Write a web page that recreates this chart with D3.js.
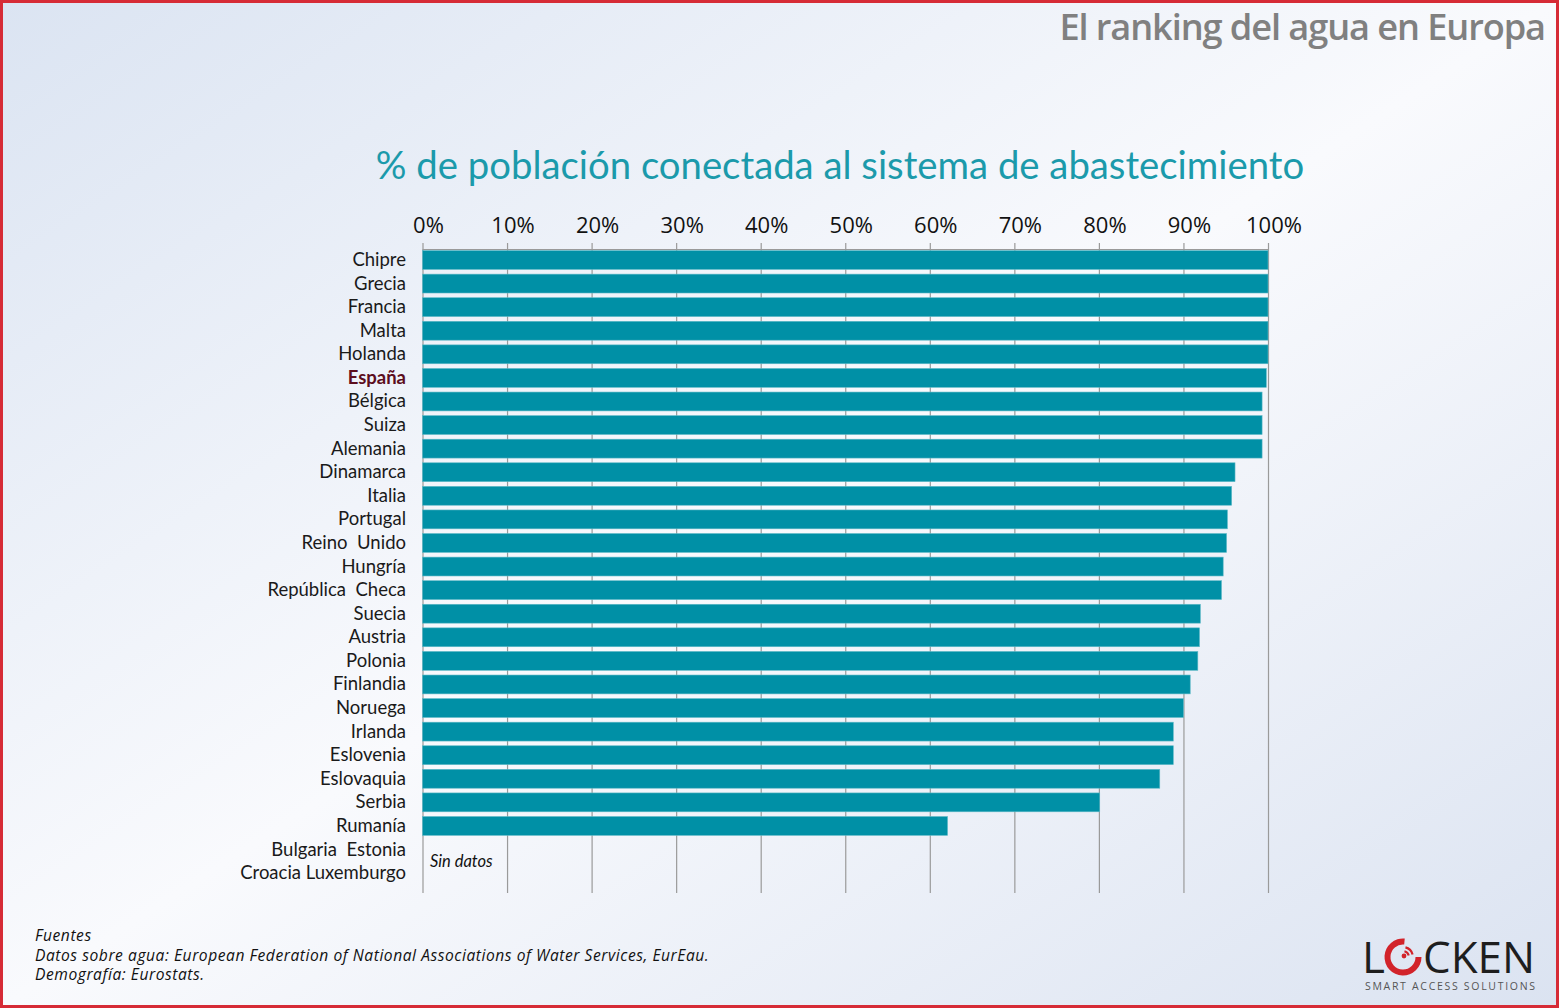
<!DOCTYPE html>
<html>
<head>
<meta charset="utf-8">
<script src="https://cdn.jsdelivr.net/npm/d3@7"></script>
<style>
  html, body { margin: 0; padding: 0; }
  body { width: 1559px; height: 1008px; overflow: hidden; }
</style>
</head>
<body>
<svg id="chart" width="1559" height="1008"></svg>
<script>
// datos
const paises = ["Chipre", "Grecia", "Francia", "Malta", "Holanda", "España", "Bélgica", "Suiza", "Alemania",
  "Dinamarca", "Italia", "Portugal", "Reino  Unido", "Hungría", "República  Checa", "Suecia", "Austria",
  "Polonia", "Finlandia", "Noruega", "Irlanda", "Eslovenia", "Eslovaquia", "Serbia", "Rumanía"];
const valores = [100, 100, 100, 100, 100, 99.8, 99.3, 99.3, 99.3,
  96.1, 95.7, 95.2, 95.1, 94.7, 94.5, 92.0, 91.9,
  91.7, 90.8, 90.0, 88.8, 88.8, 87.2, 80.1, 62.1];
const sinDatos = ["Bulgaria  Estonia", "Croacia Luxemburgo"];
const ticks = [0, 10, 20, 30, 40, 50, 60, 70, 80, 90, 100];
const destacado = "España";

const svg = d3.select("#chart");
const W = 1559, H = 1008;

// fondo degradado
const defs = svg.append("defs");
const grad = defs.append("linearGradient").attr("id", "fondo")
  .attr("x1", "0%").attr("y1", "0%").attr("x2", "100%").attr("y2", "100%");
grad.append("stop").attr("offset", "0%").attr("stop-color", "#dbe4f2");
grad.append("stop").attr("offset", "50%").attr("stop-color", "#f9fafd");
grad.append("stop").attr("offset", "100%").attr("stop-color", "#dbe3f1");
svg.append("rect").attr("width", W).attr("height", H).attr("fill", "url(#fondo)");
svg.append("rect").attr("x", 1.5).attr("y", 1.5).attr("width", W - 3).attr("height", H - 3)
  .attr("fill", "none").attr("stroke", "#d62b36").attr("stroke-width", 3);

// títulos
svg.append("text").attr("x", 1545).attr("y", 40).attr("text-anchor", "end")
  .attr("font-family", "'Open Sans', sans-serif").attr("font-weight", 600)
  .attr("font-size", 36.2).attr("fill", "#808080").attr("letter-spacing", -1.1)
  .text("El ranking del agua en Europa");

svg.append("text").attr("x", 840).attr("y", 179).attr("text-anchor", "middle")
  .attr("font-family", "Lato, sans-serif").attr("font-size", 38.3).attr("fill", "#1b9aab")
  .text("% de población conectada al sistema de abastecimiento");

// escalas
const filas = paises.concat(sinDatos);
const x = d3.scaleLinear().domain([0, 100]).range([422.5, 1268]);
const y = d3.scaleBand().domain(filas).range([248.2, 884.9]).paddingInner(0.2).paddingOuter(0.1);

const g = svg.append("g");

// rejilla vertical
g.selectAll("line.grid").data(ticks).enter().append("line")
  .attr("class", "grid")
  .attr("x1", d => x(d) + 0.5).attr("x2", d => x(d) + 0.5)
  .attr("y1", 243).attr("y2", 893)
  .attr("stroke", "#9a9a9a").attr("stroke-width", 1.2);

g.append("line").attr("x1", x(0)).attr("x2", x(100) + 1).attr("y1", 249.5).attr("y2", 249.5)
  .attr("stroke", "#9a9a9a").attr("stroke-width", 1.2);

// etiquetas del eje
g.selectAll("text.tick").data(ticks).enter().append("text")
  .attr("class", "tick")
  .attr("x", d => x(d) + 6).attr("y", 233).attr("text-anchor", "middle")
  .attr("font-family", "'Open Sans', sans-serif").attr("font-size", 22).attr("fill", "#111")
  .text(d => d + "%");

// barras
g.selectAll("rect.bar").data(paises).enter().append("rect")
  .attr("class", "bar")
  .attr("x", x(0)).attr("y", d => y(d))
  .attr("width", (d, i) => x(valores[i]) - x(0))
  .attr("height", y.bandwidth())
  .attr("fill", "#0090a6").attr("stroke", "#5fb9c7").attr("stroke-width", 0.6);

// etiquetas de países
g.selectAll("text.pais").data(filas).enter().append("text")
  .attr("class", "pais")
  .attr("x", 406).attr("y", d => y(d) + y.bandwidth() / 2 + 6)
  .attr("text-anchor", "end")
  .attr("font-family", "Lato, sans-serif").attr("font-size", 18.5)
  .attr("font-weight", d => d === destacado ? 700 : 400)
  .attr("fill", d => d === destacado ? "#5c0d1d" : "#1a1a1a")
  .style("white-space", "pre")
  .text(d => d);

g.append("text").attr("x", 430).attr("y", (y(sinDatos[0]) + y(sinDatos[1]) + y.bandwidth()) / 2 + 6)
  .attr("font-family", "Lato, sans-serif").attr("font-style", "italic").attr("font-size", 16.5)
  .attr("fill", "#111").text("Sin datos");

// fuentes
const fuentes = ["Fuentes",
  "Datos sobre agua: European Federation of National Associations of Water Services, EurEau.",
  "Demografía: Eurostats."];
svg.selectAll("text.fuente").data(fuentes).enter().append("text")
  .attr("class", "fuente")
  .attr("x", 35).attr("y", (d, i) => 941 + i * 19.5)
  .attr("font-family", "'Open Sans', sans-serif").attr("font-style", "italic").attr("font-size", 15.6)
  .attr("letter-spacing", 0.55)
  .attr("fill", "#111").text(d => d);

// logo
const logo = svg.append("g");
logo.append("text").attr("x", 1362).attr("y", 973)
  .attr("font-family", "'Open Sans', sans-serif").attr("font-size", 44).attr("fill", "#1e1e1e")
  .text("L");
const cx = 1403, cy = 957;
logo.append("path")
  .attr("d", d3.arc()({ innerRadius: 12.5, outerRadius: 18.5, startAngle: Math.PI * 0.5, endAngle: Math.PI * 2.03 }))
  .attr("transform", `translate(${cx},${cy})`).attr("fill", "#d2232a");
[7, 11].forEach(r => {
  logo.append("path")
    .attr("d", d3.arc()({ innerRadius: r - 2.2, outerRadius: r, startAngle: Math.PI * 0.08, endAngle: Math.PI * 0.42 }))
    .attr("transform", `translate(${cx},${cy})`).attr("fill", "#d2232a");
});
logo.append("circle").attr("cx", cx + 1).attr("cy", cy - 1).attr("r", 2.4).attr("fill", "#d2232a");
logo.append("text").attr("x", 1423).attr("y", 973)
  .attr("font-family", "'Open Sans', sans-serif").attr("font-size", 44).attr("fill", "#1e1e1e")
  .attr("textLength", 112).attr("lengthAdjust", "spacingAndGlyphs")
  .text("CKEN");
logo.append("text").attr("x", 1365).attr("y", 990)
  .attr("font-family", "'Open Sans', sans-serif").attr("font-size", 10.5).attr("fill", "#555")
  .attr("textLength", 170).attr("lengthAdjust", "spacing")
  .text("SMART ACCESS SOLUTIONS");
</script>
</body>
</html>
